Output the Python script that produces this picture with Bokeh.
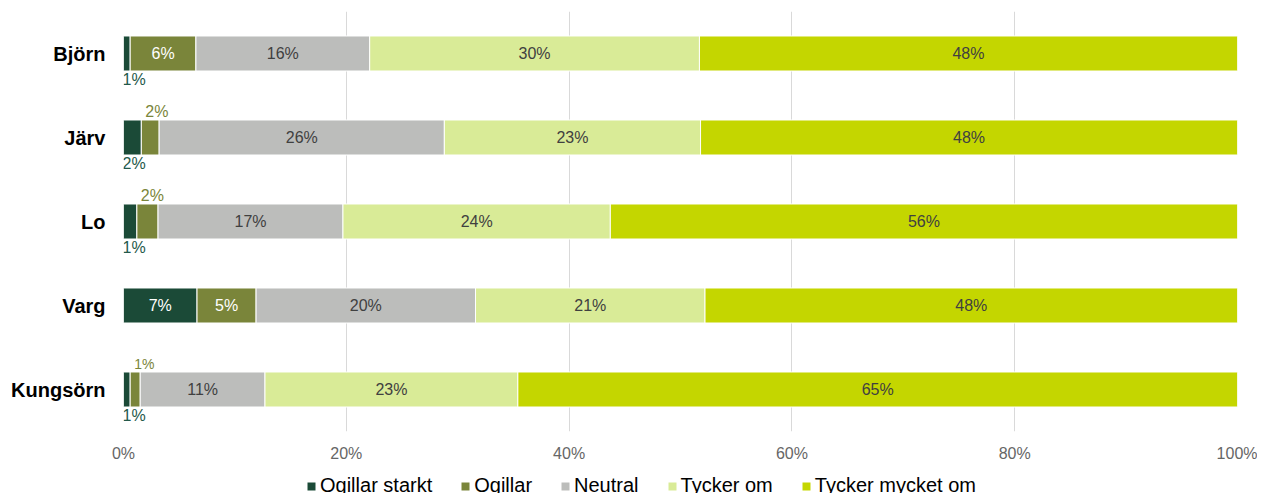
import numpy as np
from bokeh.plotting import figure
from bokeh.layouts import column
from bokeh.models import ColumnDataSource, FixedTicker, PrintfTickFormatter, Legend, LegendItem
from bokeh.core.properties import value, field
from bokeh.embed import file_html
from bokeh.resources import INLINE

categories = ["Björn", "Järv", "Lo", "Varg", "Kungsörn"]
series_names = ["Ogillar starkt", "Ogillar", "Neutral", "Tycker om", "Tycker mycket om"]
ogillar_starkt = [0.6, 1.6, 1.2, 6.6, 0.6]
ogillar = [5.9, 1.6, 1.9, 5.3, 0.9]
neutral = [15.6, 25.6, 16.6, 19.7, 11.2]
tycker_om = [29.6, 23.0, 24.0, 20.6, 22.7]
tycker_mycket_om = [48.3, 48.2, 56.3, 47.8, 64.6]
x_ticks = [0, 20, 40, 60, 80, 100]

colors = ["#1b4a37", "#7a853a", "#bcbdbb", "#d9eb97", "#c4d600"]
inside_text_colors = ["white", "white", "#404040", "#404040", "#404040"]
FONT = "Liberation Sans"

data = np.array([ogillar_starkt, ogillar, neutral, tycker_om, tycker_mycket_om])
n = len(categories)
ypos = [n - i for i in range(n)]
bar_h = 0.417

p = figure(width=1257, height=466, x_range=(0, 100), y_range=(0.5, n + 0.5),
           output_backend="svg", toolbar_location=None,
           min_border_left=123, min_border_right=20, min_border_top=11, min_border_bottom=35)
p.outline_line_color = None
p.ygrid.grid_line_color = None
p.xgrid.grid_line_color = "#d9d9d9"
p.xgrid.grid_line_width = 1
p.xgrid.ticker = FixedTicker(ticks=x_ticks)

p.xaxis.ticker = FixedTicker(ticks=x_ticks)
p.xaxis.formatter = PrintfTickFormatter(format="%d%%")
p.xaxis.axis_line_color = None
p.xaxis.major_tick_line_color = None
p.xaxis.minor_tick_line_color = None
p.xaxis.major_label_text_font = FONT
p.xaxis.major_label_text_font_size = "16px"
p.xaxis.major_label_text_color = "#666666"
p.xaxis.major_label_standoff = 7

p.yaxis.ticker = FixedTicker(ticks=ypos)
p.yaxis.major_label_overrides = {y: c for y, c in zip(ypos, categories)}
p.yaxis.axis_line_color = None
p.yaxis.major_tick_line_color = None
p.yaxis.minor_tick_line_color = None
p.yaxis.major_label_text_font = FONT
p.yaxis.major_label_text_font_size = "20px"
p.yaxis.major_label_text_font_style = "bold"
p.yaxis.major_label_text_color = "#000000"
p.yaxis.major_label_standoff = 12

# legend strip (shares the bar sources; bars lie outside its visible range)
p2 = figure(width=1257, height=27, x_range=(0, 100), y_range=(100, 101),
            output_backend="svg", toolbar_location=None, min_border=0)
p2.axis.visible = False
p2.grid.visible = False
p2.outline_line_color = None

cum = np.zeros(n)
items = []
in_x, in_y, in_t, in_c = [], [], [], []
bl_x, bl_y, bl_t = [], [], []
ab_x, ab_y, ab_t, ab_s = [], [], [], []
for s, name in enumerate(series_names):
    vals = data[s]
    left = cum.copy()
    right = cum + vals
    src = ColumnDataSource(dict(y=ypos, left=list(left), right=list(right)))
    p.hbar(y="y", left="left", right="right", height=bar_h, source=src,
           fill_color=colors[s], line_color="white", line_width=1)
    r2 = p2.hbar(y="y", left="left", right="right", height=bar_h, source=src,
                 fill_color=colors[s], line_color=None)
    items.append(LegendItem(label=name, renderers=[r2]))
    for i in range(n):
        lab = f"{vals[i]:.0f}%"
        if vals[i] >= 3:
            in_x.append(float((left[i] + right[i]) / 2))
            in_y.append(ypos[i])
            in_t.append(lab)
            in_c.append(inside_text_colors[s])
        elif s == 0:
            bl_x.append(float(left[i]))
            bl_y.append(ypos[i] - bar_h / 2)
            bl_t.append(lab)
        else:
            ab_x.append(float(left[i]))
            ab_y.append(ypos[i] + bar_h / 2)
            ab_t.append(lab)
            ab_s.append("14px" if vals[i] < 1 else "16px")
    cum = right

p.text(x="x", y="y", text="t", text_color="c", source=ColumnDataSource(dict(x=in_x, y=in_y, t=in_t, c=in_c)),
       text_align="center", text_baseline="middle", text_font_size="16px", text_font=value(FONT))
p.text(x="x", y="y", text="t", source=ColumnDataSource(dict(x=bl_x, y=bl_y, t=bl_t)),
       text_align="left", text_baseline="top", text_font_size="16px", text_font=value(FONT),
       text_color="#24594a", x_offset=-1, y_offset=0)
p.text(x="x", y="y", text="t", text_font_size=field("s"), source=ColumnDataSource(dict(x=ab_x, y=ab_y, t=ab_t, s=ab_s)),
       text_align="left", text_baseline="bottom", text_font=value(FONT),
       text_color="#7a853a", x_offset=4, y_offset=0)

legend = Legend(items=items, orientation="horizontal", location=(183, -4))
legend.label_text_font = FONT
legend.label_text_font_size = "20px"
legend.label_text_color = "#000000"
legend.glyph_width = 10
legend.glyph_height = 10
legend.label_standoff = 4
legend.spacing = 28
legend.padding = 0
legend.margin = 0
legend.border_line_color = None
legend.background_fill_alpha = 0
p2.add_layout(legend, "center")

layout = column(p, p2, spacing=0)
open("out.html", "w").write(file_html(layout, INLINE))
